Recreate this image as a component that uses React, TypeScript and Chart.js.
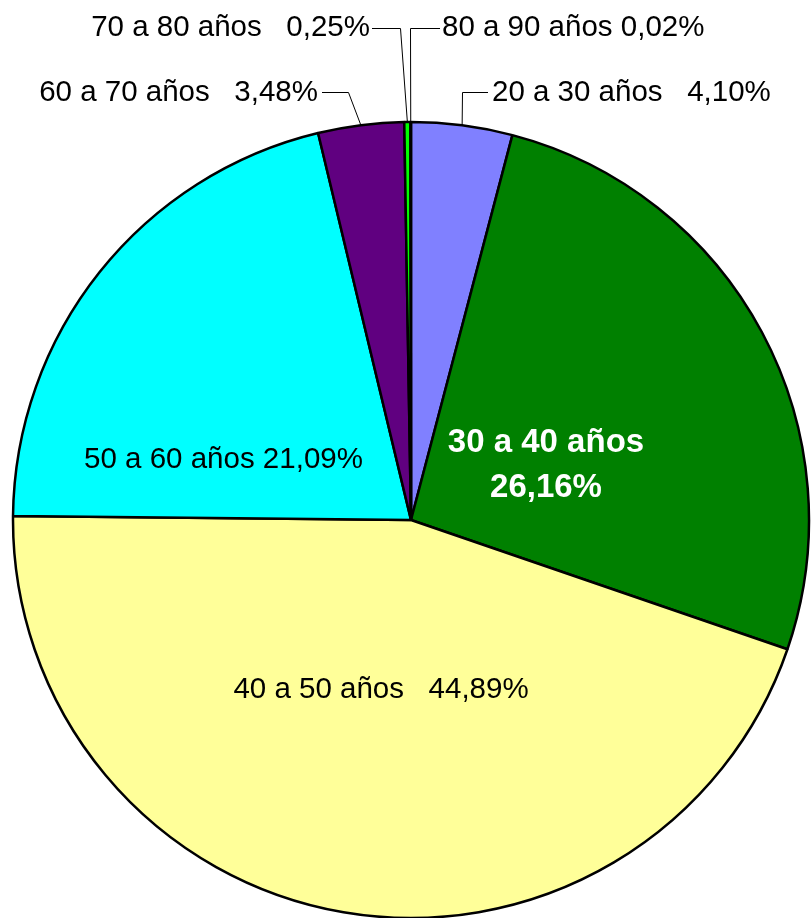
import React, { useEffect, useRef } from 'react';
import { Chart, registerables } from 'chart.js';

Chart.register(...registerables);

// ---- Data ----
const categories = ['20 a 30 años', '30 a 40 años', '40 a 50 años', '50 a 60 años', '60 a 70 años', '70 a 80 años', '80 a 90 años'];
const shares = [4.10, 26.16, 44.89, 21.09, 3.48, 0.25, 0.02];
const shareLabels = ['4,10%', '26,16%', '44,89%', '21,09%', '3,48%', '0,25%', '0,02%'];

// ---- Styles ----
const sliceColors = ['#8080FF', '#008000', '#FFFF99', '#00FFFF', '#600080', '#00FF00', '#FFFF00'];
const FONT = '"Liberation Sans", Arial, sans-serif';
const FONT_SIZE = 29.5;
const BOLD_FONT_SIZE = 33;

// ---- Label layout (canvas coordinates) ----
type Lay = {
  x: number; y: number; align: CanvasTextAlign; sep: string;
  bold?: boolean; color?: string; twoLine?: boolean; lineGap?: number;
  from?: [number, number]; knee?: [number, number];
};
const labelLayout: Lay[] = [
  { x: 492, y: 101, align: 'left', sep: '   ', from: [488, 92], knee: [462, 92] },
  { x: 546, y: 452, align: 'center', sep: '', bold: true, color: '#FFFFFF', twoLine: true, lineGap: 45 },
  { x: 381, y: 698, align: 'center', sep: '   ' },
  { x: 223.5, y: 468, align: 'center', sep: ' ' },
  { x: 318, y: 101, align: 'right', sep: '   ', from: [322, 92], knee: [348, 92] },
  { x: 370, y: 36, align: 'right', sep: '   ', from: [372, 28], knee: [400, 28] },
  { x: 442, y: 36, align: 'left', sep: ' ', from: [440, 28], knee: [410, 28] },
];

const labelPlugin = {
  id: 'sliceLabels',
  afterDatasetsDraw(chart: any) {
    const ctx = chart.ctx as CanvasRenderingContext2D;
    const meta = chart.getDatasetMeta(0);
    ctx.save();
    meta.data.forEach((arc: any, i: number) => {
      const lay = labelLayout[i];
      if (!lay) return;
      const p = arc.getProps(['x', 'y', 'startAngle', 'endAngle', 'outerRadius'], true);
      if (lay.from && lay.knee) {
        const mid = (p.startAngle + p.endAngle) / 2;
        const ex = p.x + Math.cos(mid) * p.outerRadius;
        const ey = p.y + Math.sin(mid) * p.outerRadius;
        ctx.beginPath();
        ctx.strokeStyle = '#000000';
        ctx.lineWidth = 1;
        ctx.moveTo(lay.from[0], lay.from[1] + 0.5);
        ctx.lineTo(lay.knee[0] + 0.5, lay.knee[1] + 0.5);
        ctx.lineTo(ex, ey);
        ctx.stroke();
      }
      ctx.font = lay.bold ? `bold ${BOLD_FONT_SIZE}px ${FONT}` : `${FONT_SIZE}px ${FONT}`;
      ctx.fillStyle = lay.color || '#000000';
      ctx.textAlign = lay.align;
      ctx.textBaseline = 'alphabetic';
      if (lay.twoLine) {
        ctx.fillText(categories[i], lay.x, lay.y);
        ctx.fillText(shareLabels[i], lay.x, lay.y + (lay.lineGap || 45));
      } else {
        ctx.fillText(categories[i] + lay.sep + shareLabels[i], lay.x, lay.y);
      }
    });
    ctx.restore();
  },
};

export default function App() {
  const ref = useRef<HTMLCanvasElement | null>(null);
  useEffect(() => {
    if (!ref.current) return;
    const chart = new Chart(ref.current, {
      type: 'pie',
      data: {
        labels: categories,
        datasets: [{
          data: shares,
          backgroundColor: sliceColors,
          borderColor: '#000000',
          borderWidth: 2.5,
        }],
      },
      options: {
        responsive: false,
        animation: false,
        radius: 398,
        layout: { padding: { top: 122, left: 11, right: 0, bottom: 0 } },
        plugins: {
          legend: { display: false },
          tooltip: { enabled: false },
        },
      } as any,
      plugins: [labelPlugin],
    });
    return () => chart.destroy();
  }, []);
  return (
    <div style={{ position: 'absolute', left: 0, top: 0, width: 811, height: 918, overflow: 'hidden', background: '#FFFFFF' }}>
      <canvas ref={ref} width={811} height={918} style={{ display: 'block', width: 811, height: 918 }} />
    </div>
  );
}
